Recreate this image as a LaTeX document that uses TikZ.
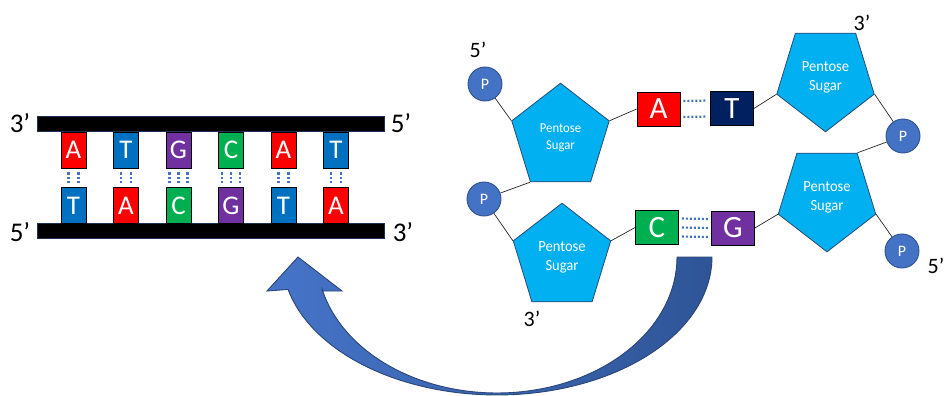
\documentclass[tikz,border=0pt]{standalone}
\usepackage{fontspec}
\setmainfont{Carlito}
\usetikzlibrary{shapes.geometric,calc}
\definecolor{cA}{HTML}{FF0000}
\definecolor{cT}{HTML}{0070C0}
\definecolor{cTd}{HTML}{002060}
\definecolor{cG}{HTML}{7030A0}
\definecolor{cC}{HTML}{00B050}
\definecolor{sugarfill}{HTML}{00B0F0}
\definecolor{sugarline}{HTML}{2A4A78}
\definecolor{pfill}{HTML}{4472C4}
\definecolor{pline}{HTML}{2F528F}
\definecolor{dotblue}{HTML}{4472C4}
\definecolor{arrowL}{HTML}{4674C8}
\definecolor{arrowR}{HTML}{2F5597}
\definecolor{arrowline}{HTML}{2A4678}
\definecolor{barborder}{HTML}{1F3050}
\begin{document}
\begin{tikzpicture}[x=1pt,y=-1pt,
  base/.style={draw=black, line width=0.8pt, text=white, inner sep=0pt},
  lbox/.style={base, minimum width=25pt, minimum height=36pt, font=\fontsize{27}{27}\selectfont},
  rbox/.style={base, minimum width=43pt, minimum height=34pt, font=\fontsize{31}{31}\selectfont},
  bar/.style={fill=black, draw=barborder, line width=0.8pt, minimum width=347pt, minimum height=15pt, inner sep=0pt},
  prime/.style={inner sep=0pt, font=\fontsize{27}{27}\selectfont},
  sprime/.style={inner sep=0pt, font=\fontsize{22}{22}\selectfont},
  vdots/.style={draw=dotblue, line width=2.6pt, dash pattern=on 2.4pt off 2pt, shorten >=4pt, shorten <=4pt},
  hdots/.style={draw=dotblue, line width=2.2pt, dash pattern=on 2pt off 2pt, shorten >=3pt, shorten <=3pt},
  sugar/.style={regular polygon, regular polygon sides=5, minimum size=109pt, inner sep=0pt, fill=sugarfill, draw=sugarline, line width=0.8pt, text=white, align=center, xscale=0.94, font=\fontsize{15.5}{19}\selectfont},
  phos/.style={circle, minimum size=34pt, inner sep=0pt, fill=pfill, draw=pline, line width=0.9pt, text=white, font=\fontsize{16}{16}\selectfont},
  bond/.style={draw=black!85, line width=0.7pt},
]
\useasboundingbox (0,0) rectangle (946,396);

% ---------- curved arrow ----------
\path[draw=arrowline, line width=0.9pt, left color=arrowL, right color=arrowR]
  plot[domain=0:166.4, samples=90, variable=\t] ({497+215*cos(\t)},{257+138*sin(\t)})
  -- (267,291) -- (298,257) -- (342,291) -- (322,291)
  -- plot[domain=166.4:0, samples=90, variable=\t] ({497+180*cos(\t)},{257+136*sin(\t)})
  -- cycle;

% ---------- left: double strand ----------
\node[bar] (tb) at (210.5,123.5) {};
\node[bar] (bb) at (210.5,231) {};
\node[prime] (l3) at (20,123) {3’};
\node[prime] (r5) at (401,123) {5’};
\node[prime] (l5) at (20,232) {5’};
\node[prime] (r3) at (403,232) {3’};

\foreach \i/\tl/\bl/\tc/\bc in {1/A/T/cA/cT,2/T/A/cT/cA,3/G/C/cG/cC,4/C/G/cC/cG,5/A/T/cA/cT,6/T/A/cT/cA}{
  \node[lbox, fill=\tc] (t\i) at ({21+52.5*\i},150) {\tl};
  \node[lbox, fill=\bc] (b\i) at ({21+52.5*\i},205.5) {\bl};
}
\foreach \i in {1,2,5,6}{
  \foreach \dx in {-5,5}{
    \draw[vdots] ([xshift=\dx pt]t\i.south) -- ([xshift=\dx pt]b\i.north);
  }
}
\foreach \i in {3,4}{
  \foreach \dx in {-9,0,9}{
    \draw[vdots] ([xshift=\dx pt]t\i.south) -- ([xshift=\dx pt]b\i.north);
  }
}

% ---------- right: nucleotides ----------
\node[sugar, font=\fontsize{13.5}{17}\selectfont] (s1) at (560.5,137.7) {Pentose\\Sugar};
\node[sugar, shape border rotate=180] (s2) at (825.5,77.3) {Pentose\\Sugar};
\node[sugar] (s3) at (562,257.7) {Pentose\\Sugar};
\node[sugar, shape border rotate=180] (s4) at (827,197.3) {Pentose\\Sugar};

\node[phos] (p1) at (485,84) {P};
\node[phos] (p2) at (484,199) {P};
\node[phos] (p3) at (903,136) {P};
\node[phos] (p4) at (902,251) {P};

\node[rbox, fill=cA] (A) at (658.5,109) {A};
\node[rbox, fill=cTd] (T) at (732,108.5) {T};
\node[rbox, fill=cC] (C) at (657,227.5) {C};
\node[rbox, fill=cG] (G) at (733,228) {G};

\node[sprime] (q5a) at (478,50) {5’};
\node[sprime] (q3a) at (862,23) {3’};
\node[sprime] (q3b) at (532,319) {3’};
\node[sprime] (q5b) at (936,266) {5’};

\draw[hdots] ([yshift=8pt]A.east) -- ([yshift=8pt]T.west);
\draw[hdots] ([yshift=-8pt]A.east) -- ([yshift=-8pt]T.west);
\draw[hdots] ([yshift=9pt]C.east) -- ([yshift=9pt]G.west);
\draw[hdots] (C.east) -- (G.west);
\draw[hdots] ([yshift=-9pt]C.east) -- ([yshift=-9pt]G.west);

\draw[bond] (p1) -- (s1.corner 2);
\draw[bond] (s1.corner 5) -- (A.west);
\draw[bond] (T.east) -- (s2.corner 5);
\draw[bond] (s2.corner 2) -- (p3);
\draw[bond] (p3) -- (s4.corner 3);
\draw[bond] (s4.corner 2) -- (p4);
\draw[bond] (s1.corner 3) -- (p2);
\draw[bond] (p2) -- (s3.corner 2);
\draw[bond] (s3.corner 5) -- (C.west);
\draw[bond] (G.east) -- (s4.corner 5);
\end{tikzpicture}
\end{document}
